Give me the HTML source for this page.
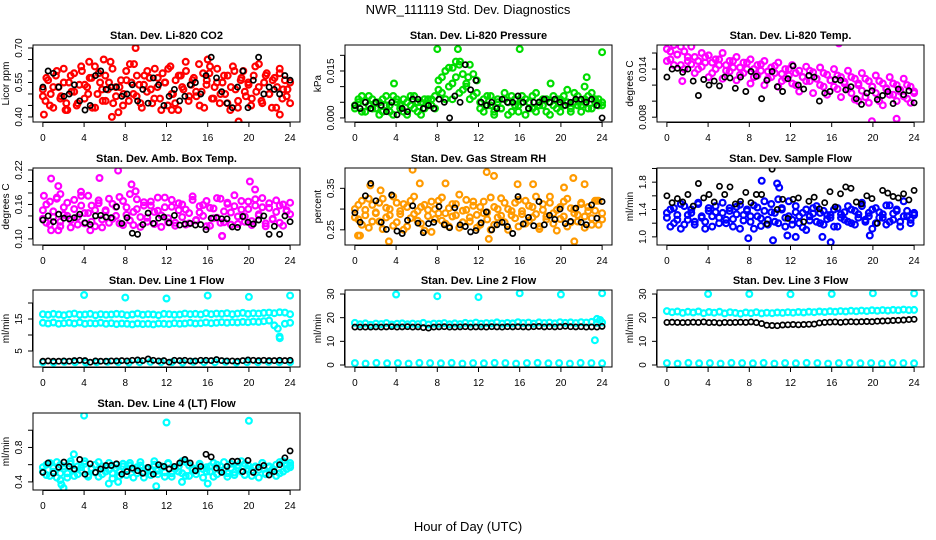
<!DOCTYPE html>
<html><head><meta charset="utf-8"><style>
html,body{margin:0;padding:0;background:#fff;}
svg{display:block;font-family:"Liberation Sans",sans-serif;}
</style></head><body>
<svg id="chart" width="936" height="540" viewBox="0 0 936 540">
<defs id="defs"></defs>
<text x="468" y="14" text-anchor="middle" font-size="13">NWR_111119  Std. Dev. Diagnostics</text>
<text x="468" y="531" text-anchor="middle" font-size="13">Hour of Day (UTC)</text>
</svg>
<script>
// ---- data ----
const xTicks = [0,4,8,12,16,20,24];
const co2Red = [0.52,0.47,0.56,0.50,0.44,0.58,0.53,0.49,0.61,0.46,0.55,0.51,0.59,0.45,0.54,0.60,0.48,0.53,0.57,0.44,0.62,0.50,0.55,0.47,0.58,0.52,0.64,0.46,0.53,0.42,0.56,0.50,0.60,0.47,0.55,0.63,0.49,0.54,0.44,0.58,0.51,0.57,0.46,0.61,0.53,0.48,0.59,0.55,0.45,0.62,0.50,0.56,0.43,0.58,0.52,0.60,0.47,0.54,0.57,0.49,0.63,0.51,0.44,0.56,0.59,0.48,0.53,0.61,0.46,0.55,0.50,0.58,0.43,0.62,0.52,0.47,0.56,0.60,0.49,0.54,0.45,0.58,0.51,0.63,0.47,0.55,0.59,0.50,0.44,0.57,0.53,0.61,0.48,0.56,0.52,0.46];
const co2Red2 = [0.49,0.57,0.45,0.53,0.60,0.48,0.55,0.43,0.58,0.51,0.46,0.62,0.54,0.50,0.57,0.44,0.59,0.52,0.47,0.55,0.61,0.49,0.53,0.45,0.56,0.63,0.50,0.58,0.46,0.54,0.60,0.52,0.48,0.57,0.43,0.55,0.61,0.50,0.46,0.58,0.53,0.64,0.49,0.56,0.51,0.45,0.59,0.54,0.62,0.48,0.55,0.50,0.58,0.46,0.53,0.60,0.44,0.57,0.51,0.55,0.48,0.62,0.53,0.46,0.58,0.50,0.56,0.44,0.59,0.52,0.49,0.55];
const co2OutHours = [0.1,6.7,9,19,23,4.5,5.9,16,2.2,12.5];
const co2OutValues = [0.41,0.40,0.70,0.38,0.41,0.64,0.65,0.65,0.43,0.43];
const co2Black = [0.53,0.60,0.59,0.53,0.49,0.50,0.54,0.47,0.43,0.45,0.58,0.60,0.52,0.53,0.53,0.49,0.50,0.54,0.47,0.52,0.46,0.57,0.54,0.45,0.49,0.52,0.47,0.49,0.54,0.55,0.50,0.58,0.66,0.57,0.51,0.46,0.44,0.53,0.60,0.44,0.56,0.66,0.50,0.53,0.52,0.50,0.58,0.56];
const pressGreen = [0.004,0.006,0.002,0.005,0.007,0.003,0.005,0.001,0.006,0.004,0.002,0.007,0.005,0.003,0.006,0.001,0.004,0.007,0.002,0.005,0.003,0.006,0.004,0.007,0.009,0.013,0.006,0.016,0.011,0.018,0.008,0.014,0.010,0.017,0.007,0.012,0.005,0.002,0.007,0.004,0.001,0.006,0.003,0.008,0.005,0.002,0.006,0.004,0.007,0.001,0.005,0.003,0.008,0.004,0.006,0.002,0.005,0.007,0.003,0.006,0.004,0.009,0.002,0.005,0.007,0.004,0.006,0.003,0.008,0.005,0.006,0.004];
const pressGreen2 = [0.003,0.005,0.007,0.002,0.004,0.006,0.003,0.005,0.002,0.007,0.004,0.001,0.006,0.004,0.002,0.005,0.007,0.003,0.005,0.001,0.006,0.004,0.006,0.003,0.012,0.008,0.015,0.010,0.006,0.013,0.017,0.009,0.011,0.006,0.014,0.008,0.003,0.006,0.004,0.007,0.002,0.005,0.003,0.006,0.001,0.007,0.004,0.002,0.005,0.006,0.003,0.007,0.002,0.005,0.004,0.006,0.001,0.004,0.006,0.002,0.007,0.005,0.003,0.008,0.004,0.002,0.005,0.007,0.003,0.006,0.004,0.005];
const pressOutHours = [3.8,8,10,10.2,16,19,22.3,22.5,24,9.5,11];
const pressOutValues = [0.011,0.022,0.022,0.018,0.022,0.011,0.010,0.013,0.021,0.016,0.013];
const pressBlack = [0.004,0.003,0.005,0.003,0.005,0.004,0.002,0.005,0.001,0.003,0.002,0.006,0.006,0.003,0.004,0.003,0.006,0.005,0.000,0.007,0.005,0.017,0.009,0.012,0.005,0.004,0.005,0.003,0.006,0.005,0.005,0.007,0.005,0.003,0.005,0.005,0.006,0.005,0.006,0.005,0.004,0.005,0.006,0.006,0.005,0.006,0.004,0.000];
const tempMag = [0.0165,0.0152,0.0170,0.0158,0.0145,0.0162,0.0150,0.0168,0.0155,0.0140,0.0160,0.0148,0.0157,0.0135,0.0152,0.0145,0.0160,0.0138,0.0150,0.0142,0.0155,0.0133,0.0148,0.0140,0.0152,0.0130,0.0145,0.0138,0.0150,0.0128,0.0142,0.0135,0.0148,0.0125,0.0140,0.0132,0.0145,0.0120,0.0138,0.0130,0.0143,0.0125,0.0136,0.0128,0.0142,0.0118,0.0133,0.0126,0.0140,0.0115,0.0130,0.0122,0.0138,0.0110,0.0128,0.0120,0.0135,0.0105,0.0125,0.0118,0.0132,0.0100,0.0122,0.0115,0.0130,0.0108,0.0120,0.0112,0.0128,0.0103,0.0118,0.0110];
const tempMag2 = [0.0150,0.0162,0.0145,0.0158,0.0168,0.0140,0.0155,0.0146,0.0135,0.0150,0.0143,0.0155,0.0130,0.0148,0.0140,0.0152,0.0128,0.0145,0.0137,0.0150,0.0126,0.0142,0.0135,0.0148,0.0122,0.0140,0.0132,0.0146,0.0120,0.0137,0.0130,0.0144,0.0118,0.0134,0.0128,0.0140,0.0122,0.0135,0.0112,0.0130,0.0125,0.0138,0.0110,0.0128,0.0120,0.0135,0.0108,0.0126,0.0118,0.0132,0.0105,0.0124,0.0115,0.0130,0.0102,0.0122,0.0113,0.0128,0.0098,0.0118,0.0110,0.0125,0.0095,0.0116,0.0108,0.0122,0.0100,0.0114,0.0106,0.0120,0.0098,0.0112];
const tempOutHours = [0.7,4.7,5,6.6,16.7,18.6,19.9,22.3,1.5];
const tempOutValues = [0.0190,0.0180,0.0185,0.0178,0.0172,0.0100,0.0075,0.0078,0.0125];
const tempBlack = [0.0130,0.0140,0.0141,0.0136,0.0140,0.0125,0.0107,0.0127,0.0120,0.0125,0.0119,0.0130,0.0129,0.0116,0.0130,0.0112,0.0137,0.0131,0.0103,0.0126,0.0137,0.0118,0.0112,0.0128,0.0144,0.0120,0.0115,0.0132,0.0130,0.0100,0.0110,0.0112,0.0127,0.0126,0.0114,0.0118,0.0103,0.0096,0.0110,0.0113,0.0102,0.0107,0.0112,0.0097,0.0115,0.0108,0.0113,0.0098];
const ambMag = [0.150,0.128,0.165,0.138,0.172,0.122,0.155,0.140,0.133,0.168,0.125,0.158,0.145,0.175,0.130,0.150,0.162,0.120,0.148,0.170,0.135,0.156,0.127,0.166,0.142,0.178,0.124,0.152,0.138,0.164,0.130,0.158,0.147,0.172,0.121,0.155,0.136,0.168,0.128,0.150,0.160,0.125,0.145,0.174,0.132,0.157,0.140,0.166,0.123,0.153,0.137,0.170,0.129,0.161,0.146,0.176,0.126,0.151,0.139,0.165,0.131,0.158,0.143,0.171,0.122,0.154,0.135,0.167,0.128,0.160,0.148,0.163];
const ambMag2 = [0.135,0.160,0.125,0.148,0.170,0.130,0.142,0.163,0.120,0.152,0.138,0.175,0.127,0.145,0.158,0.122,0.167,0.134,0.150,0.128,0.161,0.140,0.173,0.124,0.155,0.132,0.147,0.169,0.121,0.158,0.137,0.165,0.126,0.149,0.141,0.172,0.129,0.156,0.123,0.162,0.138,0.151,0.127,0.168,0.133,0.146,0.159,0.122,0.154,0.136,0.171,0.128,0.148,0.163,0.125,0.157,0.139,0.166,0.130,0.152,0.124,0.169,0.141,0.155,0.127,0.162,0.134,0.147,0.158,0.123,0.150,0.143];
const ambOutHours = [0.1,0.8,1.5,1.7,3.7,5.5,7.3,8.6,9,17.4,20.1,20.6,0.8,1.5,4.6,17.4];
const ambOutValues = [0.175,0.205,0.192,0.178,0.182,0.206,0.219,0.195,0.183,0.105,0.200,0.186,0.115,0.115,0.115,0.105];
const ambBlack = [0.133,0.140,0.130,0.143,0.136,0.135,0.137,0.143,0.128,0.125,0.140,0.141,0.138,0.137,0.156,0.127,0.137,0.110,0.108,0.125,0.145,0.127,0.136,0.138,0.128,0.141,0.124,0.126,0.127,0.124,0.125,0.116,0.136,0.137,0.135,0.135,0.121,0.120,0.139,0.129,0.126,0.133,0.140,0.108,0.122,0.108,0.140,0.130];
const rhOrange = [0.300,0.275,0.320,0.285,0.255,0.310,0.290,0.270,0.325,0.280,0.300,0.260,0.315,0.288,0.250,0.305,0.278,0.330,0.295,0.265,0.310,0.283,0.245,0.300,0.320,0.272,0.290,0.258,0.312,0.285,0.335,0.268,0.298,0.280,0.318,0.255,0.305,0.290,0.275,0.328,0.262,0.300,0.284,0.315,0.250,0.295,0.278,0.322,0.288,0.265,0.308,0.280,0.330,0.258,0.298,0.275,0.315,0.290,0.248,0.305,0.282,0.325,0.268,0.300,0.286,0.312,0.255,0.295,0.278,0.320,0.262,0.290];
const rhOrange2 = [0.280,0.310,0.262,0.298,0.325,0.270,0.292,0.315,0.252,0.303,0.285,0.330,0.268,0.295,0.312,0.258,0.320,0.288,0.272,0.305,0.248,0.298,0.318,0.276,0.290,0.328,0.265,0.302,0.282,0.312,0.255,0.296,0.322,0.270,0.308,0.286,0.262,0.318,0.292,0.250,0.305,0.280,0.326,0.268,0.300,0.285,0.315,0.258,0.295,0.320,0.272,0.305,0.288,0.252,0.312,0.282,0.330,0.265,0.298,0.276,0.318,0.258,0.302,0.290,0.270,0.315,0.282,0.305,0.262,0.296,0.320,0.275];
const rhOutHours = [0.5,1.5,2.5,3.3,5.6,6.3,8.8,12.8,13.5,15.8,17.3,20.3,21.2,22.3,23.5,0.3,13,21.3];
const rhOutValues = [0.236,0.357,0.345,0.222,0.395,0.362,0.362,0.389,0.380,0.360,0.360,0.352,0.375,0.360,0.320,0.236,0.228,0.222];
const rhBlack = [0.291,0.268,0.332,0.362,0.320,0.268,0.251,0.334,0.247,0.241,0.273,0.308,0.266,0.243,0.265,0.268,0.306,0.262,0.255,0.303,0.262,0.258,0.245,0.248,0.267,0.293,0.250,0.262,0.268,0.258,0.241,0.330,0.264,0.280,0.260,0.318,0.262,0.285,0.275,0.300,0.265,0.270,0.302,0.268,0.262,0.310,0.278,0.318];
const flowBlue = [1.35,1.15,1.42,1.25,1.48,1.18,1.32,1.40,1.22,1.50,1.28,1.12,1.38,1.30,1.45,1.20,1.35,1.25,1.42,1.15,1.33,1.47,1.24,1.38,1.30,1.12,1.43,1.27,1.52,1.18,1.36,1.22,1.55,1.40,1.15,1.30,1.25,1.45,1.20,1.35,1.10,1.30,1.42,1.22,1.35,1.18,1.32,1.28,1.40,1.15,1.33,1.25,1.45,1.20,1.38,1.28,1.50,1.22,1.35,1.12,1.42,1.28,1.33,1.18,1.46,1.25,1.38,1.22,1.52,1.30,1.20,1.35];
const flowBlue2 = [1.28,1.40,1.20,1.32,1.12,1.45,1.25,1.35,1.18,1.48,1.30,1.22,1.42,1.15,1.36,1.28,1.50,1.20,1.38,1.26,1.44,1.12,1.32,1.40,1.22,1.46,1.30,1.16,1.38,1.25,1.48,1.35,1.20,1.42,1.28,1.52,1.18,1.36,1.30,1.14,1.40,1.24,1.34,1.45,1.20,1.38,1.26,1.32,1.15,1.42,1.28,1.36,1.22,1.40,1.18,1.33,1.45,1.25,1.30,1.40,1.20,1.36,1.28,1.46,1.22,1.34,1.40,1.15,1.30,1.38,1.25,1.32];
const flowOutHours = [7.9,9.2,10.3,10.7,10.9,11.7,12.5,15.1,15.9,19.7];
const flowOutValues = [0.98,1.82,0.95,1.78,1.72,1.02,1.00,1.00,0.92,1.02];
const flowBlack = [1.60,1.50,1.56,1.51,1.62,1.45,1.78,1.57,1.62,1.51,1.74,1.62,1.73,1.48,1.52,1.65,1.50,1.62,1.62,1.19,1.99,1.40,1.55,1.27,1.55,1.57,1.22,1.52,1.58,1.41,1.50,1.66,1.44,1.63,1.73,1.71,1.51,1.48,1.60,1.56,1.20,1.68,1.64,1.59,1.57,1.63,1.54,1.68];
const l1Upper = [16.5,16.3,16.6,16.4,16.2,16.5,16.7,16.3,16.4,16.6,16.2,16.5,16.3,16.4,16.6,16.5,16.2,16.4,16.7,16.3,16.5,16.4,16.2,16.6,16.5,16.3,16.4,16.7,16.5,16.6,16.4,16.8,16.5,16.7,16.6,16.8,16.5,16.7,16.9,16.6,16.8,16.7,16.9,17.0,16.8,17.1,17.0,16.5];
const l1Lower = [13.8,13.6,13.9,13.5,13.7,13.8,13.6,13.9,13.5,13.7,13.6,13.8,13.5,13.7,13.4,13.6,13.5,13.3,13.6,13.4,13.5,13.3,13.6,13.5,13.4,13.7,13.5,13.6,13.8,13.6,13.7,13.9,13.7,13.8,14.0,13.8,14.0,13.9,14.1,14.0,14.2,14.1,14.3,14.5,13.0,9.5,13.5,13.8];
const l1Bottom = [1.5,1.4,1.6,1.5,1.4,1.5,1.6,1.5,1.4,1.5,1.6,1.5,1.5,1.4,1.6,1.5,1.5,1.6,1.4,1.5,1.5,1.6,1.5,1.5];
const l1OutHours = [4,8,12,16,20,24,22.8,23];
const l1OutValues = [22.5,21.7,21.4,22.3,21.9,22.3,12.0,9.0];
const l1Black = [1.8,1.9,1.8,1.8,1.9,1.8,2.0,2.1,2.0,1.5,1.9,1.8,1.8,1.9,1.9,2.0,1.9,2.1,2.2,2.0,2.5,2.1,1.9,2.0,1.5,2.1,2.0,2.1,1.9,1.9,2.1,2.1,2.0,2.3,2.0,1.9,1.9,1.8,2.0,2.2,2.1,2.0,2.1,2.0,2.0,2.1,2.0,2.1];
const l2Cyan = [17.8,17.2,17.6,17.0,17.5,17.3,17.7,17.1,17.4,17.6,17.2,17.5,17.3,17.8,17.1,17.5,17.4,17.7,17.2,17.6,17.3,17.8,17.5,17.9,17.4,17.7,17.6,18.0,17.5,17.8,17.6,18.1,17.7,17.9,17.5,18.0,17.7,17.9,17.6,18.1,17.8,18.0,17.7,18.1,17.9,18.2,17.8,18.0];
const l2Bottom = [0.8,0.6,0.9,0.7,0.8,0.6,0.9,0.8,0.7,0.9,0.6,0.8,0.7,0.9,0.8,0.6,0.8,0.9,0.7,0.8,0.6,0.9,0.8,0.7];
const l2OutHours = [4,8,12,16,20,24,23.3,23.5,23.8];
const l2OutValues = [29.8,29.1,28.7,30.3,29.8,30.3,10.5,19.5,19.0];
const l2Black = [16.0,16.0,16.0,16.0,16.1,16.0,16.1,16.2,16.0,16.1,16.2,16.0,16.1,15.8,15.6,16.0,16.1,16.2,16.0,16.0,16.1,16.2,16.0,16.1,16.1,16.0,16.2,16.1,16.0,16.2,16.1,16.2,16.1,16.0,16.2,16.3,16.1,16.2,16.1,16.2,16.4,16.2,16.1,16.2,16.0,16.1,16.0,16.3];
const l3Cyan = [22.8,22.3,22.6,22.0,22.5,22.2,22.6,21.9,22.4,22.1,22.5,21.8,22.3,22.0,21.7,22.2,21.9,22.3,21.8,22.1,21.9,22.2,22.0,22.3,22.1,22.4,22.2,22.5,22.3,22.6,22.4,22.7,22.5,22.8,22.6,22.9,22.7,23.0,22.8,23.1,22.9,23.2,23.0,23.3,23.1,23.4,23.2,23.3];
const l3Bottom = [0.8,0.6,0.9,0.7,0.8,0.6,0.9,0.8,0.7,0.9,0.6,0.8,0.7,0.9,0.8,0.6,0.8,0.9,0.7,0.8,0.6,0.9,0.8,0.7];
const l3OutHours = [4,8,12,16,20,24];
const l3OutValues = [30.0,30.0,29.9,30.0,30.3,30.2];
const l3Black = [18.0,18.1,18.0,17.9,18.0,18.1,18.0,18.2,17.9,18.0,17.8,18.0,17.9,18.0,18.1,18.0,18.2,17.9,17.5,16.8,16.7,16.6,16.9,17.0,17.1,17.0,17.1,17.2,17.3,17.8,18.0,18.1,18.2,18.0,18.2,18.3,18.2,18.3,18.4,18.3,18.5,18.6,18.7,18.8,18.9,19.0,19.2,19.3];
const l4Cyan = [0.57,0.48,0.62,0.52,0.45,0.60,0.55,0.50,0.64,0.47,0.58,0.53,0.61,0.46,0.56,0.51,0.63,0.49,0.57,0.54,0.44,0.60,0.52,0.58,0.48,0.62,0.55,0.50,0.59,0.45,0.56,0.53,0.64,0.49,0.57,0.51,0.61,0.46,0.55,0.58,0.50,0.63,0.47,0.56,0.53,0.60,0.45,0.57,0.52,0.62,0.49,0.58,0.54,0.46,0.61,0.51,0.56,0.64,0.48,0.59,0.53,0.57,0.45,0.62,0.50,0.58,0.55,0.47,0.63,0.52,0.60,0.57];
const l4Cyan2 = [0.52,0.60,0.47,0.56,0.63,0.50,0.58,0.45,0.61,0.53,0.49,0.57,0.64,0.48,0.55,0.60,0.46,0.58,0.52,0.62,0.50,0.56,0.47,0.61,0.54,0.59,0.45,0.57,0.63,0.51,0.55,0.48,0.60,0.53,0.58,0.46,0.62,0.50,0.56,0.52,0.64,0.47,0.59,0.54,0.49,0.61,0.55,0.52,0.58,0.46,0.60,0.53,0.63,0.50,0.56,0.48,0.59,0.52,0.61,0.55,0.47,0.58,0.54,0.62,0.49,0.57,0.52,0.60,0.50,0.64,0.55,0.59];
const l4OutHours = [4,12,20,2,1.8,11,3,6.4,7.3,13.5,16,1.7,24];
const l4OutValues = [1.17,1.09,1.11,0.33,0.37,0.35,0.72,0.38,0.40,0.40,0.38,0.42,0.62];
const l4Black = [0.51,0.62,0.50,0.57,0.63,0.58,0.55,0.66,0.49,0.61,0.51,0.55,0.59,0.59,0.61,0.49,0.52,0.56,0.53,0.50,0.57,0.49,0.60,0.58,0.55,0.58,0.62,0.66,0.62,0.53,0.58,0.72,0.69,0.56,0.51,0.58,0.64,0.64,0.52,0.65,0.51,0.57,0.59,0.48,0.52,0.60,0.68,0.76];

// ---- layout (not data) ----
const COLX = [33,345,657], ROWY = [45,168,290,413], BW = 267, BH = 77;
const panels = [
 {name:'co2',title:'Stan. Dev. Li-820 CO2',ylab:'Licor ppm',c:0,r:0,ymin:0.378,ymax:0.713,ticks:[0.40,0.45,0.50,0.55,0.60,0.65,0.70],labels:{'0.4':'0.40','0.55':'0.55','0.7':'0.70'},
  series:[[co2Red,null,'#ff0000'],[co2Red2,null,'#ff0000'],[co2OutValues,co2OutHours,'#ff0000'],[co2Black,null,'#000']]},
 {name:'pressure',title:'Stan. Dev. Li-820 Pressure',ylab:'kPa',c:1,r:0,ymin:-0.0013,ymax:0.0233,ticks:[0,0.005,0.01,0.015,0.02],labels:{'0':'0.000','0.015':'0.015'},
  series:[[pressGreen,null,'#00dd00'],[pressGreen2,null,'#00dd00'],[pressOutValues,pressOutHours,'#00dd00'],[pressBlack,null,'#000']]},
 {name:'temp',title:'Stan. Dev. Li-820 Temp.',ylab:'degrees C',c:2,r:0,ymin:0.0074,ymax:0.017,ticks:[0.008,0.010,0.012,0.014,0.016],labels:{'0.008':'0.008','0.014':'0.014'},
  series:[[tempMag,null,'#ff00ff'],[tempMag2,null,'#ff00ff'],[tempOutValues,tempOutHours,'#ff00ff'],[tempBlack,null,'#000']]},
 {name:'amb-box',title:'Stan. Dev. Amb. Box Temp.',ylab:'degrees C',c:0,r:1,ymin:0.0894,ymax:0.2235,ticks:[0.10,0.12,0.14,0.16,0.18,0.20,0.22],labels:{'0.1':'0.10','0.16':'0.16','0.22':'0.22'},
  series:[[ambMag,null,'#ff00ff'],[ambMag2,null,'#ff00ff'],[ambOutValues,ambOutHours,'#ff00ff'],[ambBlack,null,'#000']]},
 {name:'rh',title:'Stan. Dev. Gas Stream RH',ylab:'percent',c:1,r:1,ymin:0.2134,ymax:0.399,ticks:[0.25,0.30,0.35],labels:{'0.25':'0.25','0.35':'0.35'},
  series:[[rhOrange,null,'#ff9a00'],[rhOrange2,null,'#ff9a00'],[rhOutValues,rhOutHours,'#ff9a00'],[rhBlack,null,'#000']]},
 {name:'sample-flow',title:'Stan. Dev. Sample Flow',ylab:'ml/min',c:2,r:1,ymin:0.881,ymax:2.007,ticks:[1.0,1.2,1.4,1.6,1.8,2.0],labels:{'1':'1.0','1.4':'1.4','1.8':'1.8'},
  series:[[flowBlue,null,'#0000ff'],[flowBlue2,null,'#0000ff'],[flowOutValues,flowOutHours,'#0000ff'],[flowBlack,null,'#000']]},
 {name:'line1',title:'Stan. Dev. Line 1 Flow',ylab:'ml/min',c:0,r:2,ymin:0,ymax:24.06,ticks:[5,10,15,20],labels:{'5':'5','15':'15'},
  series:[[l1Upper,null,'#00ffff'],[l1Lower,null,'#00ffff'],[l1Bottom,null,'#00ffff'],[l1OutValues,l1OutHours,'#00ffff'],[l1Black,null,'#000']]},
 {name:'line2',title:'Stan. Dev. Line 2 Flow',ylab:'ml/min',c:1,r:2,ymin:-0.85,ymax:31.7,ticks:[0,10,20,30],labels:{'0':'0','10':'10','20':'20','30':'30'},
  series:[[l2Cyan,null,'#00ffff'],[l2Bottom,null,'#00ffff'],[l2OutValues,l2OutHours,'#00ffff'],[l2Black,null,'#000']]},
 {name:'line3',title:'Stan. Dev. Line 3 Flow',ylab:'ml/min',c:2,r:2,ymin:-0.85,ymax:31.7,ticks:[0,10,20,30],labels:{'0':'0','10':'10','20':'20','30':'30'},
  series:[[l3Cyan,null,'#00ffff'],[l3Bottom,null,'#00ffff'],[l3OutValues,l3OutHours,'#00ffff'],[l3Black,null,'#000']]},
 {name:'line4',title:'Stan. Dev. Line 4 (LT) Flow',ylab:'ml/min',c:0,r:3,ymin:0.306,ymax:1.2,ticks:[0.4,0.6,0.8,1.0],labels:{'0.4':'0.4','0.8':'0.8'},
  series:[[l4Cyan,null,'#00ffff'],[l4Cyan2,null,'#00ffff'],[l4OutValues,l4OutHours,'#00ffff'],[l4Black,null,'#000']]}
];

const NS='http://www.w3.org/2000/svg';
const svg=document.getElementById('chart');
const defs=document.getElementById('defs');
function mk(tag,attrs,parent){const e=document.createElementNS(NS,tag);for(const k in attrs)e.setAttribute(k,attrs[k]);(parent||svg).appendChild(e);return e;}

panels.forEach(p=>{
  const bx=COLX[p.c], by=ROWY[p.r];
  const cp=mk('clipPath',{id:'clip-'+p.name},defs);
  mk('rect',{x:bx,y:by,width:BW,height:BH},cp);
  const g=mk('g',{});
  
  
  const xs=h=>bx+(h+0.96)/25.92*BW;
  const ys=v=>by+BH-(v-p.ymin)/(p.ymax-p.ymin)*BH;
  const t=mk('text',{x:bx+BW/2,y:by-6,'text-anchor':'middle','font-size':'11','font-weight':'bold'},g);
  t.textContent=p.title;
  
  
  const pts=mk('g',{fill:'none','clip-path':'url(#clip-'+p.name+')'},g);
  
  
  p.series.forEach(s=>{
    const vals=s[0], hrs=s[1], black=s[2]==='#000';
    vals.forEach((v,i)=>{
      const h=hrs?hrs[i]:i*24/(vals.length-1);
      const c=mk('circle',{cx:xs(h).toFixed(1),cy:ys(v).toFixed(1),r:black?'2.6':'2.9',stroke:s[2],'stroke-width':black?'1.7':'2.2'},pts);
      
      
    });
  });
  const box=mk('rect',{x:bx,y:by,width:BW,height:BH,fill:'none',stroke:'#000','stroke-width':'1'},g);
  
  
  const xa=mk('g',{'font-size':'10'},g);
  
  
  mk('line',{x1:xs(0),x2:xs(24),y1:by+BH+0.5,y2:by+BH+0.5,stroke:'#000'},xa);
  xTicks.forEach(h=>{
    mk('line',{x1:xs(h),x2:xs(h),y1:by+BH,y2:by+BH+5,stroke:'#000'},xa);
    const l=mk('text',{x:xs(h),y:by+BH+19,'text-anchor':'middle'},xa);
    l.textContent=h;
    
    
  });
  const ya=mk('g',{'font-size':'10'},g);
  
  
  mk('line',{x1:bx-0.5,x2:bx-0.5,y1:ys(p.ticks[0]),y2:ys(p.ticks[p.ticks.length-1]),stroke:'#000'},ya);
  p.ticks.forEach(v=>{
    const y=ys(v);
    mk('line',{x1:bx-5,x2:bx,y1:y,y2:y,stroke:'#000'},ya);
    const key=String(+v.toFixed(4));
    if(p.labels[key]!==undefined){
      const l=mk('text',{x:bx-11,y:y,'text-anchor':'middle',transform:`rotate(-90 ${bx-11} ${y})`},ya);
      l.textContent=p.labels[key];
      
      
    }
  });
  const yl=mk('text',{x:bx-24,y:by+BH/2,'text-anchor':'middle','font-size':'10',transform:`rotate(-90 ${bx-24} ${by+BH/2})`},g);
  yl.textContent=p.ylab;
  
  
});
</script>
</body></html>
